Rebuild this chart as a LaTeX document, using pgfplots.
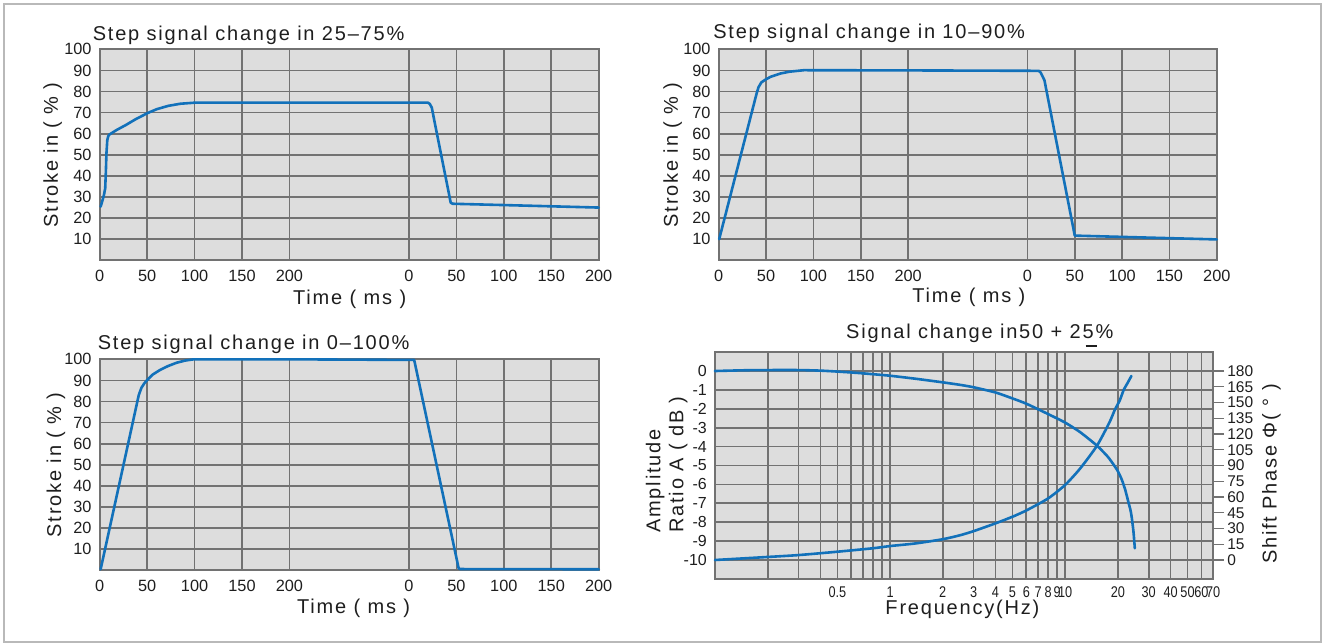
\documentclass[border=0pt]{standalone}
\usepackage{fontspec}
\setmainfont{Liberation Sans}
\newfontfamily\lblfont[LetterSpace=9]{Liberation Sans}
\newfontfamily\narrowfont[FakeStretch=0.82]{Liberation Sans}
\usepackage{pgfplots}
\pgfplotsset{compat=1.18}
\definecolor{bggray}{RGB}{221,221,221}
\definecolor{gridgray}{RGB}{114,114,114}
\definecolor{curveblue}{RGB}{18,113,186}
\definecolor{txt}{RGB}{30,30,30}
\newcommand{\lbl}{\lblfont\fontsize{20}{23}\selectfont}
\newcommand{\tck}{\fontsize{16.3}{18}\selectfont}
\pgfplotsset{
  every axis title/.style={anchor=base west, inner sep=0pt, font=\lbl, text=txt},
  every axis x label/.style={anchor=base, inner sep=0pt, font=\lbl, text=txt},
  every axis y label/.style={anchor=center, inner sep=0pt, rotate=90, font=\lbl, text=txt},
  base/.style={scale only axis, anchor=south west,
     axis background/.style={fill=bggray},
     grid=major, major grid style={gridgray, line width=1.7pt},
     axis line style={gridgray, line width=1.7pt},
     major tick length=0pt, minor tick length=0pt,
     tick label style={text=txt},
     yticklabel style={anchor=east, inner sep=0pt, xshift=-8pt},
     clip=false},
  step/.style={base, width=499pt, height=211pt,
     xmin=0, xmax=526, ymin=0, ymax=100,
     xtick={0,50,100,150,200,326,376,426,476,526},
     xticklabels={0,50,100,150,200,0,50,100,150,200},
     ytick={0,10,20,30,40,50,60,70,80,90,100},
     yticklabels={,10,20,30,40,50,60,70,80,90,100},
     tick label style={font=\tck},
     xticklabel style={anchor=north, inner sep=0pt, yshift=-10pt},
     xlabel={Time ( ms )}, ylabel={Stroke in ( \% )}},
  curve/.style={curveblue, line width=2.6pt, line join=round, line cap=round, mark=none}
}
\begin{document}
\begin{tikzpicture}
\path[use as bounding box] (0pt,0pt) rectangle (1322pt,-643pt);
\draw[gray!55, line width=2pt] (4pt,-3.5pt) rectangle (1321pt,-642pt);

% Panel 1
\begin{axis}[step, at={(99.7pt,-260.3pt)},
  title={Step signal change in 25–75\%},
  title style={at={(axis description cs:-0.0142,1.0426)}},
  xlabel style={at={(axis description cs:0.501,-0.2115)}},
  ylabel style={at={(axis description cs:-0.0944,0.5)}}]
\addplot[curve] coordinates {(1,25.4)(3,28.5)(4.5,31)(5.8,34.1)(6.5,42)(7.1,50.6)(8,56.9)(9,58.8)(10.2,59.6)(18,61.8)(27.9,64.2)(38,66.9)(50.6,69.8)(60,71.6)(72.3,73.2)(85,74.2)(100,74.7)(200,74.7)(346,74.7)(348,74.1)(350,72.4)(370,27.3)(372,26.8)(450,25.9)(526,25)};
\end{axis}

% Panel 2
\begin{axis}[step, at={(718.7pt,-260.3pt)}, width=498.1pt,
  title={Step signal change in 10–90\%},
  title style={at={(axis description cs:-0.0112,1.0506)}},
  xlabel style={at={(axis description cs:0.5023,-0.2007)}},
  ylabel style={at={(axis description cs:-0.0926,0.5)}}]
\addplot[curve] coordinates {(0.5,10)(40,79)(42,82)(45,84.3)(50,85.8)(55,87)(65,88.5)(75,89.4)(90,90.1)(200,90)(338,89.8)(340,89)(344,85.3)(376,11.7)(450,10.8)(526,9.9)};
\end{axis}

% Panel 3
\begin{axis}[step, at={(99.7pt,-570.3pt)},
  title={Step signal change in 0–100\%},
  title style={at={(axis description cs:-0.0042,1.0474)}},
  xlabel style={at={(axis description cs:0.509,-0.2038)}},
  ylabel style={at={(axis description cs:-0.0875,0.5)}}]
\addplot[curve] coordinates {(1,0.5)(41.2,83.1)(44,86.5)(47,88.6)(50.1,90.2)(56,92.8)(63.4,94.9)(72,96.8)(81.2,98.4)(90,99.4)(99,100)(200,100)(331.5,99.7)(378.4,0.9)(380,0.6)(526,0.5)};
\end{axis}

% Panel 4: amplitude
\begin{axis}[base, at={(715pt,-578.9pt)}, width=498.1pt, height=226.8pt,
  xmode=log, xmin=0.1, xmax=70, ymin=-11, ymax=1,
  xtick={0.2,0.3,0.4,0.5,0.6,0.7,0.8,0.9,1,2,3,4,5,6,7,8,9,10,20,30,40,50,60,70},
  xticklabels={,,,0.5,,,,,1,2,3,4,5,6,7,8,9,10,\raisebox{-3pt}{20},30,40,50,60,70},
  xticklabel style={anchor=north, inner sep=0pt, yshift=-8pt, font=\narrowfont\fontsize{15.5}{17}\selectfont},
  ytick={-10,-9,-8,-7,-6,-5,-4,-3,-2,-1,0},
  yticklabels={-10,-9,-8,-7,-6,-5,-4,-3,-2,-1,0},
  yticklabel style={font=\fontsize{16}{18}\selectfont},
  title={Signal change in50 + 25\%},
  title style={at={(axis description cs:0.263,1.0609)}},
  xlabel={Frequency(Hz)},
  xlabel style={at={(axis description cs:0.4967,-0.159)}},
  ylabel={Amplitude\\Ratio A ( dB )},
  ylabel style={align=left, at={(axis description cs:-0.0968,0.5044)}}]
\addplot[curve, smooth, tension=0.35] coordinates {(0.1,0)(0.15,0.04)(0.2,0.05)(0.3,0.05)(0.4,0.02)(0.5,-0.03)(0.65,-0.1)(0.8,-0.17)(1,-0.25)(1.4,-0.41)(2,-0.6)(2.5,-0.73)(3,-0.86)(4,-1.135)(5,-1.45)(6,-1.73)(8,-2.28)(10,-2.73)(12.2,-3.24)(15.2,-3.95)(17.5,-4.53)(19,-4.98)(20,-5.3)(21,-5.72)(22,-6.26)(23,-6.96)(23.6,-7.35)(24,-7.74)(24.55,-8.49)(25,-9.38)};
\end{axis}

% Panel 4: phase
\begin{axis}[scale only axis, anchor=south west, at={(715pt,-578.9pt)}, width=498.1pt, height=226.8pt,
  xmode=log, xmin=0.1, xmax=70, ymin=-18, ymax=198,
  axis x line=none, axis y line*=right,
  axis line style={gridgray, line width=1.7pt},
  ytick={0,15,30,45,60,75,90,105,120,135,150,165,180},
  yticklabels={0,15,30,45,60,75,90,105,120,135,150,165,180},
  major tick length=11pt, tick align=outside,
  ytick style={gridgray, line width=1.2pt},
  yticklabel style={anchor=west, inner sep=0pt, xshift=3pt, text=txt, font=\fontsize{15.5}{17}\selectfont},
  ylabel={Shift Phase Φ( ° )},
  ylabel style={at={(axis description cs:1.1169,0.4625)}},
  clip=false]
\addplot[curve, smooth, tension=0.4] coordinates {(0.1,0)(0.2,2.9)(0.3,4.7)(0.5,7.9)(0.8,11.2)(1,13.3)(1.4,15.8)(2,19.8)(2.5,23.5)(3,27.5)(4,34.9)(5,41.2)(6,47.2)(8,58.7)(10,71.5)(12.2,87.3)(15.2,108.9)(17.9,131)(19.2,142.9)(20.5,152)(21.6,162)(22.8,169)(23.9,175.3)};
\end{axis}

\draw[txt, line width=1.8pt] (1085.5pt,-346pt) -- (1096.7pt,-346pt);
\end{tikzpicture}
\end{document}
